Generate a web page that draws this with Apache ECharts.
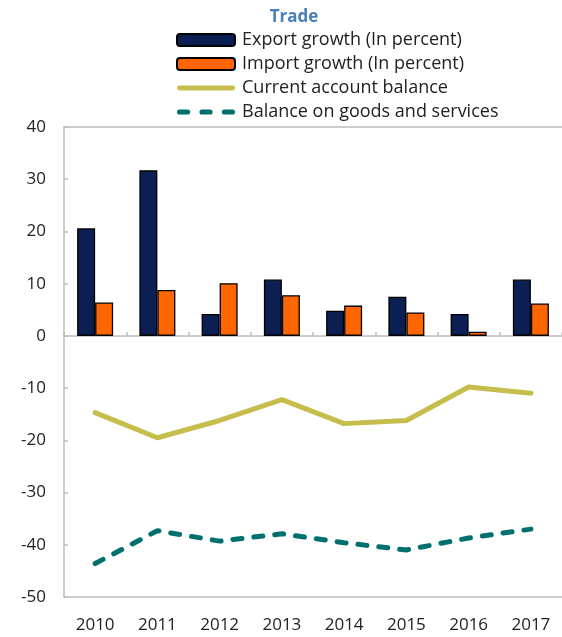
<!DOCTYPE html>
<html>
<head>
<meta charset="utf-8">
<script src="https://cdn.jsdelivr.net/npm/echarts@6/dist/echarts.min.js"></script>
<style>
html,body{margin:0;padding:0;background:#fff;}
#chart{width:562px;height:637px;}
</style>
</head>
<body>
<div id="chart"></div>
<script>
const years = ['2010','2011','2012','2013','2014','2015','2016','2017'];
const exportGrowth = [20.6, 31.7, 4.2, 10.8, 4.8, 7.5, 4.2, 10.8];
const importGrowth = [6.4, 8.8, 10.1, 7.8, 5.8, 4.5, 0.8, 6.2];
const currentAccount = [-14.7, -19.5, -16.2, -12.2, -16.8, -16.2, -9.8, -11.0];
const goodsServices = [-43.6, -37.3, -39.3, -37.9, -39.6, -41.0, -38.7, -37.0];
const yTicks = [-50, -40, -30, -20, -10, 0, 10, 20, 30, 40];

const FONT = '"Open Sans", "Noto Sans", sans-serif';
const AXIS_COLOR = '#bdbdbd';
const SOLID_ICON = 'path://M2.5,0H57.5A2.5,2.5,0,0,1,57.5,5H2.5A2.5,2.5,0,0,1,2.5,0Z';
const DASH_ICON = 'path://M2.5,0H10.5A2.5,2.5,0,0,1,10.5,5H2.5A2.5,2.5,0,0,1,2.5,0Z' +
  'M24.5,0H32.5A2.5,2.5,0,0,1,32.5,5H24.5A2.5,2.5,0,0,1,24.5,0Z' +
  'M46.5,0H54.5A2.5,2.5,0,0,1,54.5,5H46.5A2.5,2.5,0,0,1,46.5,0Z';

const chart = echarts.init(document.getElementById('chart'), null, {renderer: 'canvas'});

chart.setOption({
  animation: false,
  backgroundColor: '#fff',
  title: {
    text: 'Trade',
    left: 289, top: 4,
    textAlign: 'center',
    textStyle: {fontFamily: FONT, fontSize: 17, fontWeight: 'bold', color: '#4a7ebb'}
  },
  legend: {
    orient: 'vertical',
    left: 176, top: 31, padding: 0,
    itemWidth: 58, itemHeight: 12,
    itemGap: 6,
    symbolKeepAspect: true,
    textStyle: {fontFamily: FONT, fontSize: 18, color: '#222', lineHeight: 18, padding: [0,0,0,2]},
    data: [
      {name: 'Export growth (In percent)'},
      {name: 'Import growth (In percent)'},
      {name: 'Current account balance', icon: SOLID_ICON},
      {name: 'Balance on goods and services', icon: DASH_ICON}
    ]
  },
  grid: {left: 64, right: 0, top: 127, bottom: 40},
  xAxis: [
    {
      type: 'category', data: years, position: 'bottom',
      axisLine: {onZero: true, lineStyle: {color: AXIS_COLOR, width: 1.5}},
      axisTick: {show: true, inside: true, length: 4, alignWithLabel: false, lineStyle: {color: AXIS_COLOR, width: 1.5}},
      axisLabel: {show: false}
    },
    {
      type: 'category', data: years, position: 'bottom',
      axisLine: {onZero: false, lineStyle: {color: AXIS_COLOR, width: 1.5}},
      axisTick: {show: false},
      axisLabel: {fontFamily: FONT, fontSize: 17, color: '#222', margin: 20}
    },
    {
      type: 'category', data: years, position: 'top',
      axisLine: {onZero: false, lineStyle: {color: AXIS_COLOR, width: 1.5}},
      axisTick: {show: false},
      axisLabel: {show: false}
    }
  ],
  yAxis: {
    type: 'value', min: yTicks[0], max: yTicks[yTicks.length-1], interval: 10,
    axisLine: {show: true, lineStyle: {color: AXIS_COLOR, width: 1.5}},
    axisTick: {show: true, inside: true, length: 4, lineStyle: {color: AXIS_COLOR, width: 1.5}},
    splitLine: {show: false},
    axisLabel: {fontFamily: FONT, fontSize: 17, color: '#222', margin: 18}
  },
  series: [
    {
      name: 'Export growth (In percent)', type: 'bar', xAxisIndex: 0, data: exportGrowth,
      barWidth: 18, barGap: '0%',
      itemStyle: {color: '#0b1f52', borderColor: '#000', borderWidth: 1.3}
    },
    {
      name: 'Import growth (In percent)', type: 'bar', xAxisIndex: 0, data: importGrowth,
      barWidth: 18, barGap: '0%',
      itemStyle: {color: '#ff6600', borderColor: '#000', borderWidth: 1.3}
    },
    {
      name: 'Current account balance', type: 'line', xAxisIndex: 0, data: currentAccount,
      symbol: 'none', lineStyle: {color: '#c6bd4c', width: 5, cap: 'round', join: 'round'},
      itemStyle: {color: '#c6bd4c'}
    },
    {
      name: 'Balance on goods and services', type: 'line', xAxisIndex: 0, data: goodsServices,
      symbol: 'none', lineStyle: {color: '#00706f', width: 5, type: [9, 12], cap: 'round', join: 'round'},
      itemStyle: {color: '#00706f'}
    }
  ]
});
</script>
</body>
</html>
